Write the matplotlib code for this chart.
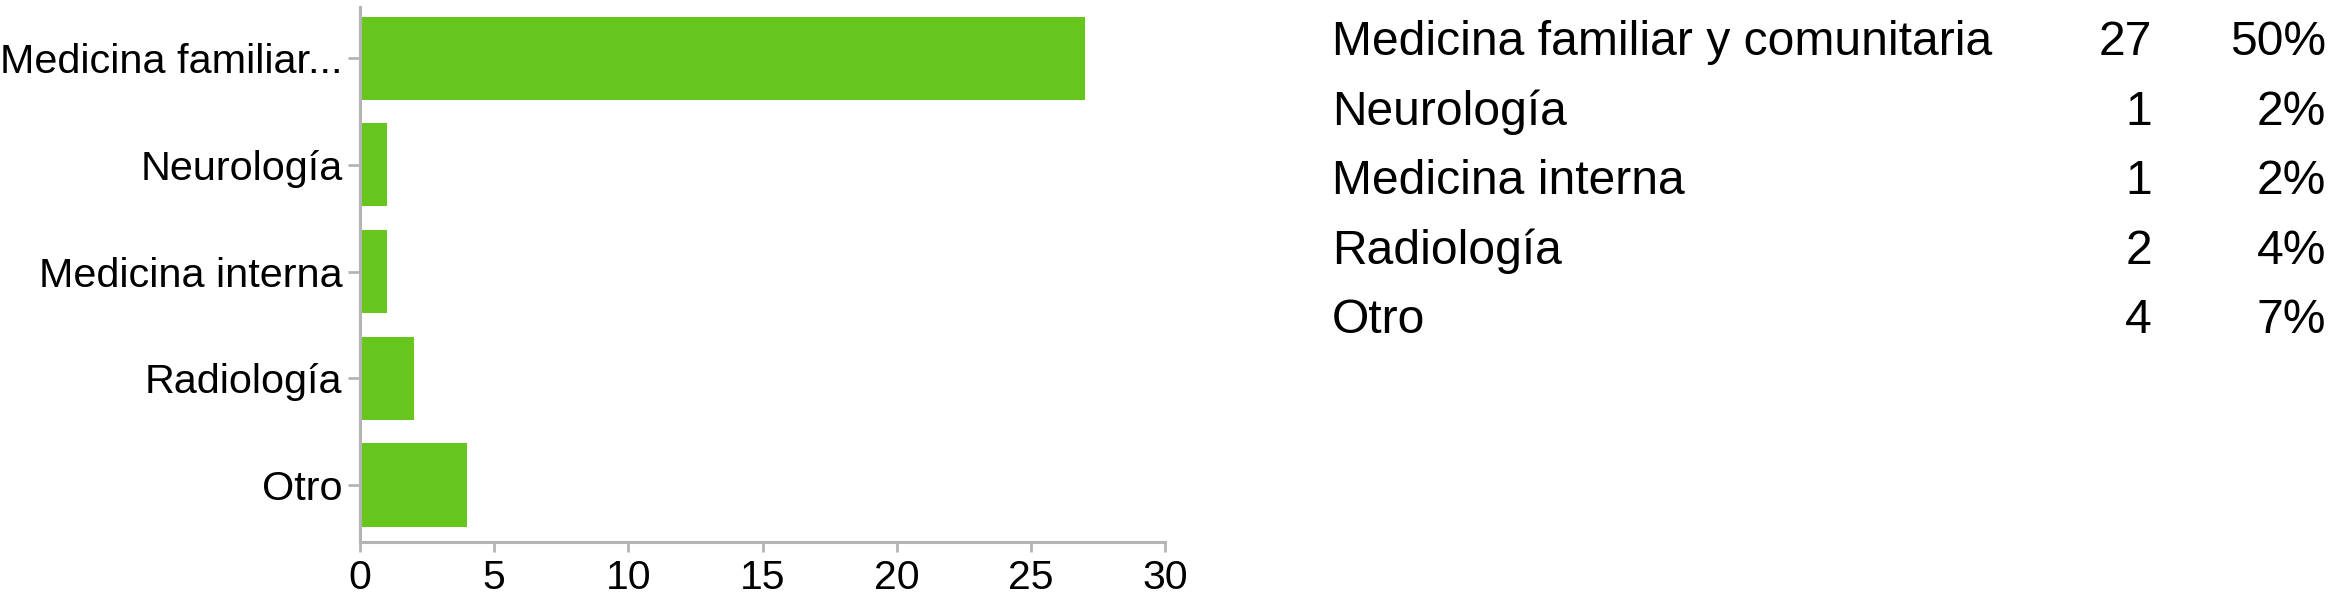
import matplotlib
matplotlib.use("Agg")
import matplotlib.pyplot as plt

# Data
categories_short = ["Medicina familiar...", "Neurología", "Medicina interna", "Radiología", "Otro"]
categories_full = ["Medicina familiar y comunitaria", "Neurología", "Medicina interna", "Radiología", "Otro"]
counts = [27, 1, 1, 2, 4]
percents = ["50%", "2%", "2%", "4%", "7%"]
xticks = [0, 5, 10, 15, 20, 25, 30]

W, H = 2328, 602
DPI = 100
plt.rcParams['font.family'] = ['Liberation Sans', 'DejaVu Sans']

fig = plt.figure(figsize=(W / DPI, H / DPI), dpi=DPI)
fig.patch.set_facecolor('white')

ax = fig.add_axes([360 / W, 1 - 542 / H, 805 / W, 535 / H])
y = list(range(len(categories_short)))
ax.barh(y, counts, height=0.78, color='#66c61e', edgecolor='none')
ax.set_xlim(0, 30)
ax.set_ylim(4.535, -0.48)
ax.set_yticks(y)
ax.set_yticklabels(categories_short, fontsize=29.8)
ax.set_xticks(xticks)
ax.set_xticklabels([str(t) for t in xticks], fontsize=29.5)

grey = '#b4b4b4'
for s in ['top', 'right']:
    ax.spines[s].set_visible(False)
for s in ['left', 'bottom']:
    ax.spines[s].set_color(grey)
    ax.spines[s].set_linewidth(2.2)
ax.tick_params(axis='x', length=7.2, width=2.0, color=grey, pad=5)
ax.tick_params(axis='y', length=8.6, width=2.0, color=grey, pad=4)

# Table on the right
baselines = [55, 124.5, 194, 263.5, 333]
for lab, c, p, b in zip(categories_full, counts, percents, baselines):
    yy = 1 - b / H
    fig.text(1332 / W, yy, lab, fontsize=34.6, ha='left', va='baseline')
    fig.text(2152 / W, yy, str(c), fontsize=34.6, ha='right', va='baseline')
    fig.text(2326 / W, yy, p, fontsize=34.6, ha='right', va='baseline')

fig.savefig("out.png", dpi=DPI, facecolor='white')
